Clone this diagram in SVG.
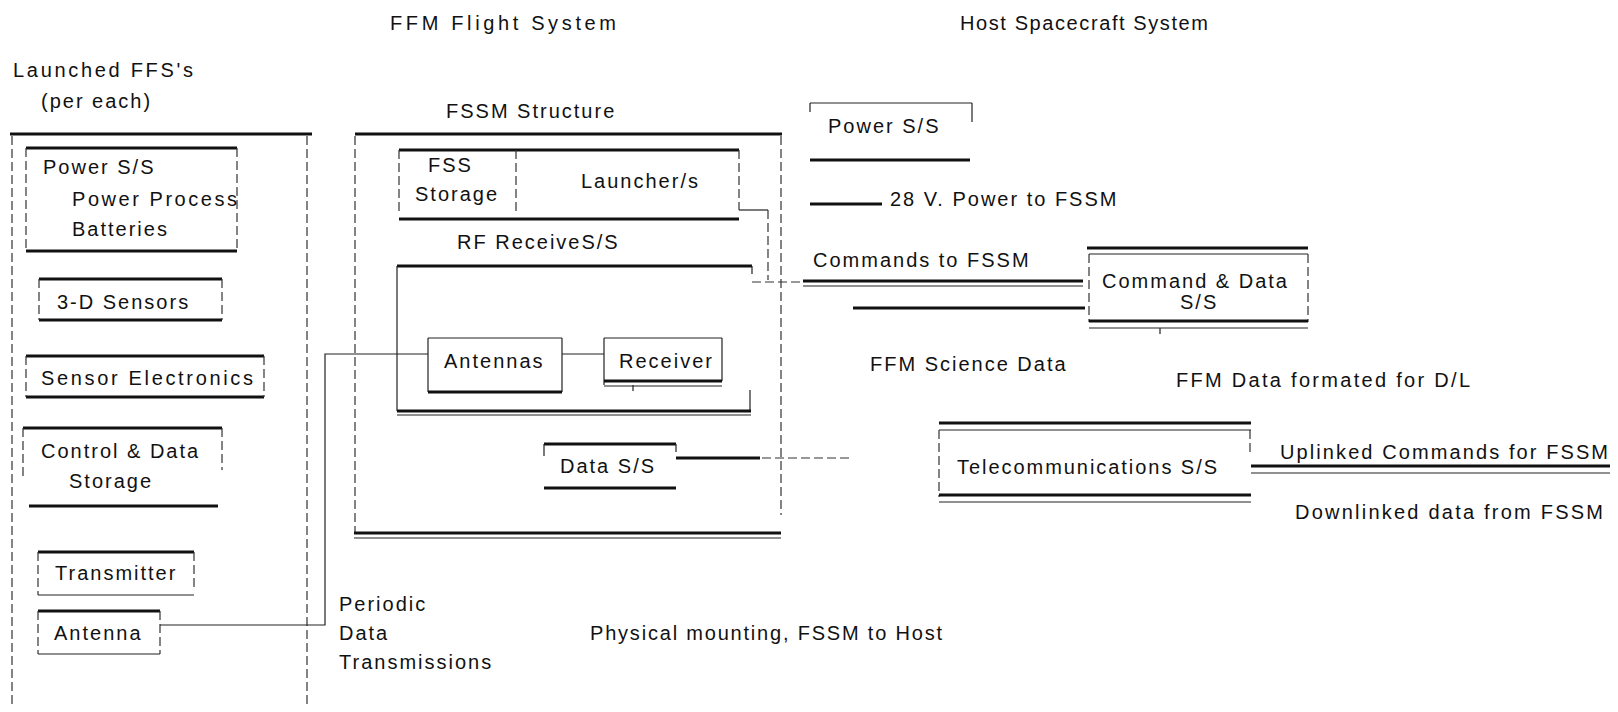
<svg xmlns="http://www.w3.org/2000/svg" width="1618" height="712" viewBox="0 0 1618 712">
<style>
.t{font-family:"Liberation Sans",Arial,sans-serif;font-size:20px;letter-spacing:2px;fill:#111}
.k{stroke:#111;stroke-width:2.8;fill:none}
.n{stroke:#222;stroke-width:1.2;fill:none}
.d{stroke:#333;stroke-width:1.2;stroke-dasharray:9 4;fill:none}
</style>
<rect width="1618" height="712" fill="#fff"/>
<g id="titles">
<text class="t" x="390" y="30" textLength="228">FFM Flight System</text>
<text class="t" x="960" y="30" textLength="250">Host Spacecraft System</text>
</g>
<g id="launched-ffs">
<text class="t" x="13" y="77" textLength="182">Launched FFS's</text>
<text class="t" x="41" y="108">(per each)</text>
<path class="k" d="M10 134H312"/>
<path class="d" d="M12 136V705M307 136V705"/>
</g>
<g id="ffs-power">
<path class="k" d="M26 148H237M26 251H237"/>
<path class="d" d="M26 148V251M237 148V251"/>
<text class="t" x="43" y="174">Power S/S</text>
<text class="t" x="72" y="206" textLength="167">Power Process</text>
<text class="t" x="72" y="236">Batteries</text>
</g>
<g id="ffs-sensors">
<path class="k" d="M39 279H222M39 320H222"/>
<path class="d" d="M39 279V320M222 279V320"/>
<text class="t" x="57" y="309">3-D Sensors</text>
</g>
<g id="ffs-electronics">
<path class="k" d="M26 356H264M26 397H264"/>
<path class="d" d="M26 356V397M264 356V397"/>
<text class="t" x="41" y="385" textLength="214">Sensor Electronics</text>
</g>
<g id="ffs-control">
<path class="k" d="M23 428H222M29 506H218"/>
<path class="d" d="M23 428V480M222 428V470"/>
<text class="t" x="41" y="458">Control &amp; Data</text>
<text class="t" x="69" y="488">Storage</text>
</g>
<g id="ffs-transmitter">
<path class="k" d="M38 552H194"/>
<path class="n" d="M38 595H194"/>
<path class="d" d="M38 552V595M194 552V590"/>
<text class="t" x="55" y="580">Transmitter</text>
</g>
<g id="ffs-antenna">
<path class="k" d="M38 611H160"/>
<path class="n" d="M38 654H160"/>
<path class="d" d="M38 611V654M160 611V654"/>
<text class="t" x="54" y="640">Antenna</text>
</g>
<g id="fssm-structure">
<text class="t" x="446" y="118">FSSM Structure</text>
<path class="k" d="M355 134H782"/>
<path class="d" d="M355 136V533M781 136V515"/>
<path class="k" d="M354 533H781"/>
<path class="n" d="M354 538H781"/>
</g>
<g id="fss-launcher">
<path class="k" d="M399 150H739M399 219H739"/>
<path class="d" d="M399 150V213M739 150V210M516 150V213"/>
<text class="t" x="428" y="172">FSS</text>
<text class="t" x="415" y="201">Storage</text>
<text class="t" x="581" y="188">Launcher/s</text>
</g>
<g id="rf-receive">
<text class="t" x="457" y="249">RF ReceiveS/S</text>
<path class="k" d="M397 266H752"/>
<path class="n" d="M397 266V411M752 266V274M750 390V411"/>
<path class="k" d="M397 411H751"/>
<path class="n" d="M397 415H751"/>
</g>
<g id="antennas">
<path class="n" d="M428 338H562M428 338V392M562 338V392"/>
<path class="k" d="M428 392H562"/>
<text class="t" x="444" y="368">Antennas</text>
</g>
<g id="receiver">
<path class="n" d="M604 338H722M604 338V385M722 338V381M633 385V391"/>
<path class="k" d="M604 381H722"/>
<path class="n" d="M604 386H722"/>
<text class="t" x="619" y="368">Receiver</text>
</g>
<g id="data-ss">
<path class="k" d="M544 444H676M544 488H676"/>
<path class="n" d="M544 444V456M676 444V452"/>
<text class="t" x="560" y="473">Data S/S</text>
</g>
<g id="host-power">
<path class="n" d="M810 103H972M810 103V112M972 103V122"/>
<path class="k" d="M810 160H970"/>
<text class="t" x="828" y="133">Power S/S</text>
</g>
<g id="command-data">
<path class="k" d="M1087 248H1308"/>
<path class="n" d="M1089 254H1308"/>
<path class="d" d="M1089 254V322M1308 254V322"/>
<path class="k" d="M1089 321H1308"/>
<path class="n" d="M1089 328H1308M1160 328V334"/>
<text class="t" x="1102" y="288">Command &amp; Data</text>
<text class="t" x="1180" y="309">S/S</text>
</g>
<g id="telecom">
<path class="k" d="M939 423H1251"/>
<path class="n" d="M939 430H1251"/>
<path class="d" d="M939 430V497M1250 430V455"/>
<path class="k" d="M939 495H1251"/>
<path class="n" d="M939 502H1251"/>
<text class="t" x="957" y="474" textLength="262">Telecommunications S/S</text>
</g>
<g id="connectors">
<path class="k" d="M810 204H882"/>
<path class="n" d="M739 210H768"/>
<path class="d" d="M768 210V280"/>
<path class="d" d="M752 282H802"/>
<path class="k" d="M803 281H1083"/>
<path class="n" d="M803 286H1083"/>
<path class="k" d="M853 308H1085"/>
<path class="n" d="M428 354H325V625H160"/>
<path class="n" d="M562 354H604"/>
<path class="k" d="M676 458H760"/>
<path class="d" d="M762 458H851"/>
<path class="k" d="M1251 466H1610"/>
<path class="n" d="M1251 473H1610"/>
</g>
<g id="labels">
<text class="t" x="890" y="206">28 V. Power to FSSM</text>
<text class="t" x="813" y="267">Commands to FSSM</text>
<text class="t" x="870" y="371">FFM Science Data</text>
<text class="t" x="1176" y="387" textLength="296">FFM Data formated for D/L</text>
<text class="t" x="1280" y="459" textLength="330">Uplinked Commands for FSSM</text>
<text class="t" x="1295" y="519" textLength="310">Downlinked data from FSSM</text>
<text class="t" x="339" y="611">Periodic</text>
<text class="t" x="339" y="640">Data</text>
<text class="t" x="339" y="669">Transmissions</text>
<text class="t" x="590" y="640" textLength="354">Physical mounting, FSSM to Host</text>
</g>
</svg>
